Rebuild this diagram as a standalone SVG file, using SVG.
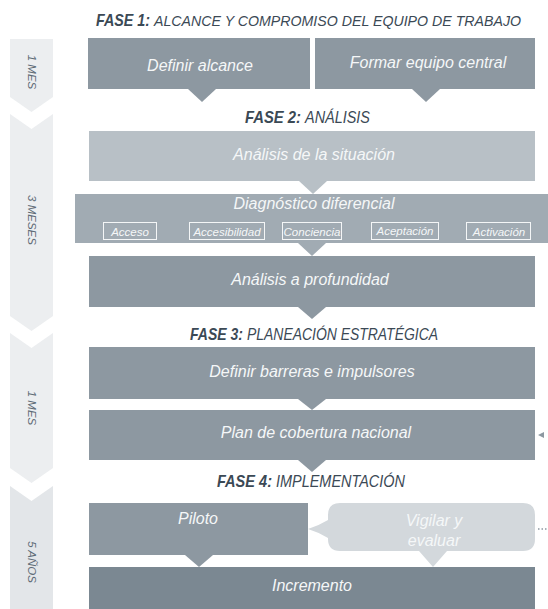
<svg xmlns="http://www.w3.org/2000/svg" width="548" height="609" viewBox="0 0 548 609">
<style>
.hd{font-family:"Liberation Sans",Arial,sans-serif;font-style:italic;font-size:16.5px;fill:#3b4955}
.b{font-weight:bold}
.h1r{font-size:15px}
.bt{font-family:"Liberation Sans",Arial,sans-serif;font-style:italic;font-size:16px;fill:#f5f7f8;text-anchor:middle}
.st{font-family:"Liberation Sans",Arial,sans-serif;font-style:italic;font-size:11.5px;fill:#f5f7f8;text-anchor:middle}
.tl{font-family:"Liberation Sans",Arial,sans-serif;font-style:italic;font-size:11.5px;fill:#5e6b76;text-anchor:middle}
.box{fill:#8d98a1}
.seg{fill:#eceef0}
.sub{fill:none;stroke:#f4f6f7;stroke-width:1}
</style>
<rect width="548" height="609" fill="#ffffff"/>
<g id="timeline">
  <polygon class="seg" points="10,39 53,39 53,97 31.5,112 10,97"/>
  <polygon class="seg" points="10,114 31.5,129 53,114 53,316 31.5,331 10,316"/>
  <polygon class="seg" points="10,333 31.5,348 53,333 53,468 31.5,483 10,468"/>
  <polygon points="10,486 31.5,501 53,486 53,609 10,609" fill="#e3e6e9"/>
  <text class="tl" transform="translate(32,72) rotate(90)" y="4.2">1 MES</text>
  <text class="tl" transform="translate(32,220) rotate(90)" y="4.2">3 MESES</text>
  <text class="tl" transform="translate(32,408) rotate(90)" y="4.2">1 MES</text>
  <text class="tl" transform="translate(32,562) rotate(90)" y="4.2">5 AÑOS</text>
</g>
<g id="headers">
  <text class="hd b" x="96" y="26" textLength="54" lengthAdjust="spacingAndGlyphs">FASE 1:</text>
  <text class="hd h1r" x="154" y="26" textLength="367" lengthAdjust="spacingAndGlyphs">ALCANCE Y COMPROMISO DEL EQUIPO DE TRABAJO</text>
  <text class="hd b" x="245" y="123" textLength="56" lengthAdjust="spacingAndGlyphs">FASE 2:</text>
  <text class="hd" x="305" y="123" textLength="65" lengthAdjust="spacingAndGlyphs">ANÁLISIS</text>
  <text class="hd b" x="190" y="340" textLength="53" lengthAdjust="spacingAndGlyphs">FASE 3:</text>
  <text class="hd" x="247" y="340" textLength="191" lengthAdjust="spacingAndGlyphs">PLANEACIÓN ESTRATÉGICA</text>
  <text class="hd b" x="217" y="487" textLength="55" lengthAdjust="spacingAndGlyphs">FASE 4:</text>
  <text class="hd" x="276" y="487" textLength="129" lengthAdjust="spacingAndGlyphs">IMPLEMENTACIÓN</text>
</g>
<g id="connectors">
  <polygon class="box" points="188,89 216,89 202,102"/>
  <polygon class="box" points="412,89 440,89 426,102"/>
  <polygon fill="#b8c0c6" points="299,181 327,181 313,194"/>
  <polygon fill="#a1abb3" points="298,243 326,243 312,256"/>
  <polygon class="box" points="298,307 326,307 312,319"/>
  <polygon class="box" points="298,399 326,399 312,410"/>
  <polygon class="box" points="298,460 326,460 312,472"/>
  <polygon class="box" points="185,555 213,555 199,567"/>
  <polygon fill="#d3d8dc" points="419,551 447,551 433,567"/>
  <polygon fill="#8d98a1" points="538,435 544,432 544,438"/>
  <line x1="538" y1="529" x2="548" y2="529" stroke="#8d98a1" stroke-width="1.5" stroke-dasharray="1.5,2"/>
</g>
<g id="definir-alcance">
  <rect class="box" x="88" y="38" width="222" height="51"/>
  <text class="bt" x="200" y="71">Definir alcance</text>
</g>
<g id="formar-equipo">
  <rect class="box" x="315" y="38" width="220" height="51"/>
  <text class="bt" x="428" y="68">Formar equipo central</text>
</g>
<g id="analisis-situacion">
  <rect x="89" y="131" width="446" height="50" fill="#b8c0c6"/>
  <text class="bt" x="314" y="160">Análisis de la situación</text>
</g>
<g id="diagnostico">
  <rect x="75" y="194" width="473" height="49" fill="#a1abb3"/>
  <text class="bt" x="314" y="209">Diagnóstico diferencial</text>
  <rect class="sub" x="103.5" y="222.5" width="53" height="17"/>
  <text class="st" x="130" y="236">Acceso</text>
  <rect class="sub" x="189.5" y="222.5" width="75" height="17"/>
  <text class="st" x="227" y="236">Accesibilidad</text>
  <rect class="sub" x="282.5" y="222.5" width="59" height="17"/>
  <text class="st" x="312" y="236">Conciencia</text>
  <rect class="sub" x="371.5" y="222.5" width="67" height="17"/>
  <text class="st" x="405" y="235">Aceptación</text>
  <rect class="sub" x="466.5" y="222.5" width="64" height="17"/>
  <text class="st" x="499" y="236">Activación</text>
</g>
<g id="analisis-profundidad">
  <rect class="box" x="89" y="256" width="446" height="51"/>
  <text class="bt" x="310" y="285">Análisis a profundidad</text>
</g>
<g id="definir-barreras">
  <rect class="box" x="89" y="347" width="446" height="52"/>
  <text class="bt" x="312" y="377">Definir barreras e impulsores</text>
</g>
<g id="plan-cobertura">
  <rect class="box" x="89" y="410" width="446" height="50"/>
  <text class="bt" x="316" y="438">Plan de cobertura nacional</text>
</g>
<g id="piloto">
  <rect class="box" x="89" y="503" width="219" height="52"/>
  <text class="bt" x="198" y="524">Piloto</text>
</g>
<g id="vigilar-evaluar">
  <path fill="#d3d8dc" d="M340,503 H523 Q535,503 535,515 V539 Q535,551 523,551 H340 Q328,551 328,539 V538 Q318,532 308,529 Q318,526 328,520 V515 Q328,503 340,503 Z"/>
  <text class="bt" x="434" y="526">Vigilar y</text>
  <text class="bt" x="434" y="546">evaluar</text>
</g>
<g id="incremento">
  <rect x="89" y="567" width="446" height="42" fill="#7b8892"/>
  <text class="bt" x="312" y="591">Incremento</text>
</g>
</svg>
